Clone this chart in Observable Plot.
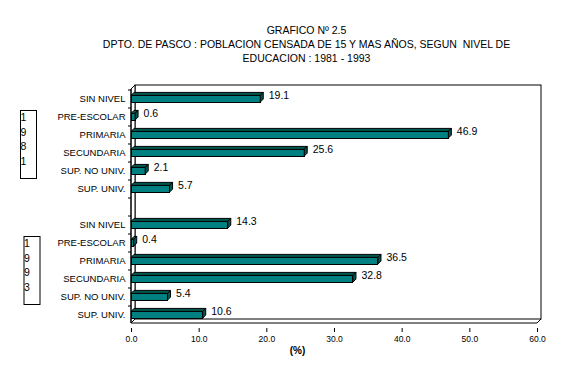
<!DOCTYPE html>
<html>
<head>
<meta charset="utf-8">
<script src="https://cdn.jsdelivr.net/npm/d3@7"></script>
<script src="https://cdn.jsdelivr.net/npm/@observablehq/plot@0.6"></script>
<style>
  html, body { margin: 0; padding: 0; background: #fff; }
  #chart { width: 569px; height: 367px; }
</style>
</head>
<body>
<div id="chart"></div>
<script>
const titleLines = [
  "GRAFICO Nº 2.5",
  "DPTO. DE PASCO : POBLACION CENSADA DE 15 Y MAS AÑOS, SEGUN  NIVEL DE",
  "EDUCACION : 1981 - 1993"
];
const categories = ["SIN NIVEL", "PRE-ESCOLAR", "PRIMARIA", "SECUNDARIA", "SUP. NO UNIV.", "SUP. UNIV."];
const years = ["1981", "1993"];
const values1981 = [19.1, 0.6, 46.9, 25.6, 2.1, 5.7];
const values1993 = [14.3, 0.4, 36.5, 32.8, 5.4, 10.6];
const xTicks = [0, 10, 20, 30, 40, 50, 60];
const xLabel = "(%)";

const valuesByYear = {"1981": values1981, "1993": values1993};
const rows = [];
years.forEach(yr => categories.forEach((c, i) => rows.push({key: yr + "|" + c, year: yr, cat: c, value: valuesByYear[yr][i]})));
const domain = [...categories.map(c => "1981|" + c), "gap", ...categories.map(c => "1993|" + c)];

const FONT = "Arial, 'Liberation Sans', sans-serif";
const FRONT = "#008080", DARK = "#00574f";

const fig = Plot.plot({
  width: 569, height: 367,
  marginLeft: 131, marginRight: 32, marginTop: 84, marginBottom: 39,
  style: {fontFamily: FONT, fontSize: "10px", background: "white", color: "black", overflow: "visible"},
  x: {domain: [0, 60]},
  y: {domain, padding: 0, axis: null},
  marks: [
    Plot.barX(rows, {x: "value", y: "key", fill: FRONT, stroke: "black", strokeWidth: 1,
      insetTop: 6.4, insetBottom: 4.9, shapeRendering: "crispEdges"}),
    Plot.text(rows, {x: "value", y: "key", text: d => d.value.toFixed(1), textAnchor: "start",
      dx: 8, dy: -3, fontSize: 10.5}),
    Plot.axisY({tickSize: 0, tickPadding: 6, fontSize: 9.5, label: null,
      tickFormat: k => k === "gap" ? "" : k.split("|")[1]}),
    Plot.axisX({ticks: xTicks, tickFormat: d3.format(".1f"), tickSize: 4, tickPadding: 3, fontSize: 8.5, label: null}),
    Plot.text([xLabel], {frameAnchor: "bottom", dx: -37, dy: 25, fontSize: 10, fontWeight: "bold"}),
    Plot.text([titleLines.join("\n")], {frameAnchor: "top", dx: -28, dy: -60, lineAnchor: "top",
      lineHeight: 1.333, fontSize: 10.5})
  ]
});

(function () {
  const xs = fig.scale("x"), ys = fig.scale("y");
  const X = v => xs.apply(v), Y = k => ys.apply(k), bw = ys.bandwidth;
  const svg = d3.select(fig);
  const L = X(0), R = X(60), T = Y(domain[0]), B = Y(domain[domain.length - 1]) + bw;
  const D = 4;

  // 3D walls behind everything
  const walls = svg.insert("g", "g");
  walls.append("rect").attr("x", L + D).attr("y", T - D).attr("width", R - L).attr("height", B - T)
    .attr("fill", "white").attr("stroke", "black");
  walls.append("path").attr("fill", "white").attr("stroke", "black")
    .attr("d", `M${L},${B}L${L},${T}L${L + D},${T - D}L${L + D},${B - D}Z`);
  walls.append("path").attr("fill", "none").attr("stroke", "black")
    .attr("d", `M${R},${B}L${R + D},${B - D}`);
  domain.forEach(k => walls.append("line").attr("x1", L - 3).attr("x2", L)
    .attr("y1", Y(k) + 1).attr("y2", Y(k) + 1).attr("stroke", "black"));

  // bar depth faces
  const faces = svg.append("g");
  const d = 3;
  rows.forEach(r => {
    const yt = Y(r.key) + 6.4, h = bw - 6.4 - 4.9;
    const x0 = X(0), x1 = X(r.value);
    faces.append("path").attr("fill", DARK).attr("stroke", "black").attr("stroke-linejoin", "round")
      .attr("d", `M${x0},${yt}L${x1},${yt}L${x1 + d},${yt - d}L${x0 + d},${yt - d}Z`);
    faces.append("path").attr("fill", DARK).attr("stroke", "black").attr("stroke-linejoin", "round")
      .attr("d", `M${x1},${yt}L${x1 + d},${yt - d}L${x1 + d},${yt + h - d}L${x1},${yt + h}Z`);
  });

  // front axis lines
  svg.append("line").attr("x1", L).attr("x2", R).attr("y1", B).attr("y2", B).attr("stroke", "black");
  svg.append("line").attr("x1", L).attr("x2", L).attr("y1", T).attr("y2", B).attr("stroke", "black");

  // year boxes
  const yearBoxX = {"1981": 20.5, "1993": 24};
  years.forEach(yr => {
    const cy = Y(yr + "|PRIMARIA") + bw + 1.5;
    const bx = yearBoxX[yr], by = cy - 34;
    const g = svg.append("g");
    g.append("rect").attr("x", bx).attr("y", by).attr("width", 16).attr("height", 68)
      .attr("fill", "white").attr("stroke", "black");
    yr.split("").forEach((ch, i) => g.append("text").attr("x", bx + 3).attr("y", by + 7 + i * 14.5)
      .attr("dy", "0.35em").attr("font-size", 10.5).attr("font-family", FONT).text(ch));
  });
})();

document.getElementById("chart").appendChild(fig);
</script>
</body>
</html>
